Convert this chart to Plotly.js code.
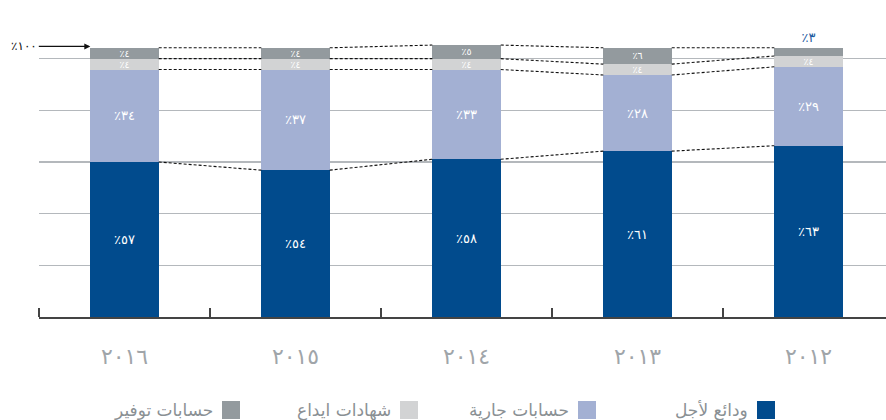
<!DOCTYPE html>
<html><head><meta charset="utf-8">
<script src="https://cdn.plot.ly/plotly-3.0.1.min.js"></script>
<style>html,body{margin:0;padding:0;background:#fff}#chart{width:886px;height:420px}</style>
</head><body><div id="chart"></div>
<script>
// Data (left to right as in the reference)
const years = ['٢٠١٦','٢٠١٥','٢٠١٤','٢٠١٣','٢٠١٢'];
const seriesNames = ['ودائع لأجل','حسابات جارية','شهادات ايداع','حسابات توفير'];
const termDeposits = [57, 54, 58, 61, 63];
const currentAccounts = [34, 37, 33, 28, 29];
const depositCerts = [4, 4, 4, 4, 4];
const savingsAccounts = [4, 4, 5, 6, 3];
const hundredLabel = '٪١٠٠';

const colors = ['#014b8d', '#a3b0d3', '#d2d3d4', '#939a9e'];
const FONT = 'DejaVu Sans, sans-serif';
const ar = n => String(n).replace(/[0-9]/g, d => '٠١٢٣٤٥٦٧٨٩'[d]);
const pct = v => '٪' + ar(v);

const xs = years.map((_, i) => i);
const series = [termDeposits, currentAccounts, depositCerts, savingsAccounts];
const halfW = 0.2;

const traces = [];
series.forEach((vals, k) => {
  const isTop = k === series.length - 1;
  const tp = vals.map((v, i) => (isTop && i === vals.length - 1) ? 'outside' : 'inside');
  traces.push({
    type: 'bar', x: xs, y: vals, name: seriesNames[k],
    marker: {color: colors[k], line: {width: 0}},
    width: halfW * 2,
    text: vals.map(pct), textposition: tp, textangle: 0,
    insidetextanchor: 'middle', constraintext: 'none',
    textfont: {family: FONT, size: k < 2 ? 13 : 9.5, color: '#ffffff'},
    outsidetextfont: {family: FONT, size: 13, color: '#1e5ba0'},
    cliponaxis: false, hoverinfo: 'skip', showlegend: false
  });
});

// dashed connector lines between segment boundaries
let cum = xs.map(() => 0);
series.forEach((vals) => {
  cum = cum.map((c, i) => c + vals[i]);
  const lx = [], ly = [];
  for (let i = 0; i < xs.length - 1; i++) {
    lx.push(xs[i] + halfW, xs[i + 1] - halfW, null);
    ly.push(cum[i], cum[i + 1], null);
  }
  traces.push({type: 'scatter', mode: 'lines', x: lx, y: ly,
    line: {color: '#111', width: 1.1, dash: '3px,2px'},
    hoverinfo: 'skip', showlegend: false, cliponaxis: false});
});

// legend (RTL: square on the right of the label)
const legendRight = [775, 596, 418, 240];
const shapes = [], annotations = [];
seriesNames.forEach((nm, k) => {
  const r = legendRight[k];
  shapes.push({type: 'rect', xref: 'paper', yref: 'paper',
    x0: (r - 18 - 39) / 847, x1: (r - 39) / 847,
    y0: -(401 - 317) / 310, y1: -(419 - 317) / 310,
    fillcolor: colors[k], line: {width: 0}});
  annotations.push({xref: 'paper', yref: 'paper', x: (r - 18 - 7 - 39) / 847,
    y: -(410 - 317) / 310, xanchor: 'right', yanchor: 'middle', showarrow: false,
    text: nm, font: {family: FONT, size: 17, color: '#8a9094'}});
});
annotations.push({xref: 'x', yref: 'y', x: -halfW, y: 99.5, text: hundredLabel,
  showarrow: true, arrowhead: 2, arrowsize: 1, arrowwidth: 1.2, arrowcolor: '#111',
  ax: -66, ay: 0, font: {family: FONT, size: 12, color: '#111'}});

const layout = {
  width: 886, height: 420,
  margin: {l: 39, r: 0, t: 7, b: 103},
  paper_bgcolor: '#fff', plot_bgcolor: '#fff',
  barmode: 'stack', showlegend: false,
  xaxis: {type: 'linear', range: [-0.5, 4.453], tickmode: 'array', tickvals: xs, ticktext: years,
    ticks: '', showgrid: false, zeroline: false, showline: true, linecolor: '#444', linewidth: 1.5,
    ticklabelstandoff: 19,
    tickfont: {family: FONT, size: 22, color: '#a0a5a9'},
    minor: {tickmode: 'linear', tick0: -0.5, dtick: 1, ticks: 'inside', ticklen: 9,
      tickwidth: 1.5, tickcolor: '#444', showgrid: false}},
  yaxis: {range: [0, 114], tickmode: 'array', tickvals: [19, 38, 57, 76, 95, 114],
    showticklabels: false, ticks: '', showgrid: true, gridcolor: '#b4b8bc', gridwidth: 1.5,
    zeroline: false, showline: false},
  shapes: shapes, annotations: annotations,
  font: {family: FONT}
};
Plotly.newPlot('chart', traces, layout, {displayModeBar: false, staticPlot: true});
</script></body></html>
